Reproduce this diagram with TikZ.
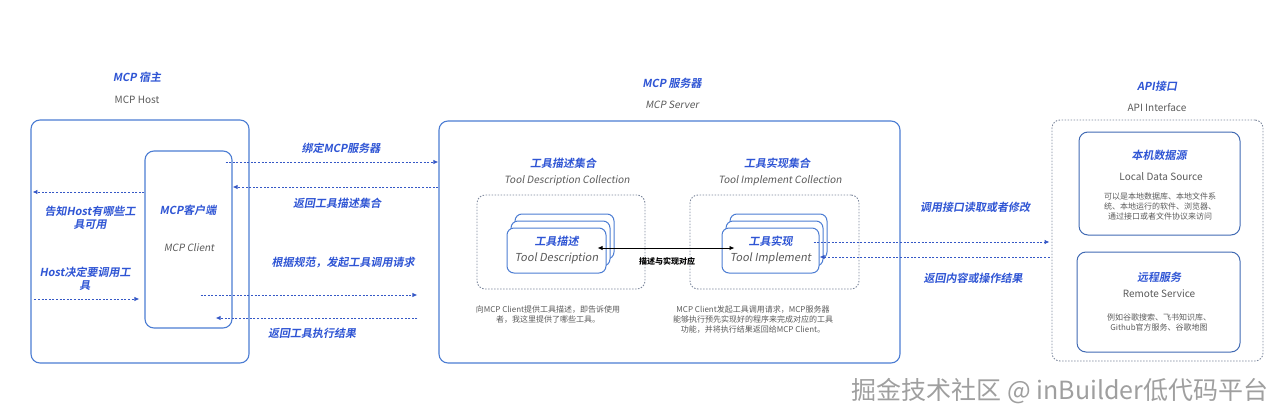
\documentclass[tikz,border=0pt]{standalone}
\usepackage{fontspec}
\setmainfont{Noto Sans CJK SC}[AutoFakeSlant=0.18, BoldItalicFont={Noto Sans CJK SC Bold}, BoldItalicFeatures={FakeSlant=0.18}]
\usetikzlibrary{arrows.meta,positioning,calc}
\definecolor{mcpblue}{HTML}{2F55D4}
\definecolor{edgeblue}{HTML}{4C7DD3}
\definecolor{linkblue}{HTML}{3558C6}
\definecolor{txtgray}{HTML}{5A5A5A}
\definecolor{dotgray}{HTML}{7C879C}

\begin{document}
\begin{tikzpicture}[
        x=1pt,
        y=-1pt,
        >={Latex[length=5pt,width=4.5pt]},
        every node/.style={font=\fontsize{11}{13}\selectfont, align=center, inner sep=1pt},
        ttl/.style={text=mcpblue, font=\fontsize{11}{13}\selectfont\bfseries\itshape},
        sub/.style={text=txtgray, font=\fontsize{10}{12}\selectfont},
        subit/.style={text=txtgray, font=\fontsize{10}{12}\selectfont\itshape},
        lbl/.style={text=mcpblue, font=\fontsize{11}{13}\selectfont\bfseries\itshape},
        note/.style={text=txtgray, font=\fontsize{8}{10}\selectfont},
        outerbox/.style={draw=edgeblue, line width=1.1pt, rounded corners=9pt},
        dotbox/.style={draw=dotgray, line width=0.9pt, dash pattern=on 1.5pt off 1.5pt, rounded corners=8pt},
        card/.style={draw=edgeblue, line width=1pt, fill=white, rounded corners=7pt, minimum width=99pt, minimum height=45pt},
        srcbox/.style={draw=edgeblue!85!black, line width=1pt, rounded corners=9pt},
        link/.style={->, draw=linkblue, line width=0.9pt, dash pattern=on 2pt off 1.6pt}
    ]
        \useasboundingbox (0,0) rectangle (1283,420);

        % host side
        \node[ttl] (hostttl) at (137,77) {MCP 宿主};
        \node[sub] (hostsub) at (137,100) {MCP Host};
        \node[outerbox, minimum width=218pt, minimum height=243pt] (host) at (140,241.5) {};
        \node[outerbox, minimum width=87pt, minimum height=177pt] (cli) at (188.5,239.5) {};
        \node[ttl] at (188,210) {MCP客户端};
        \node[subit] at (189,248) {MCP Client};

        % server side
        \node[ttl] (srvttl) at (672,83) {MCP 服务器};
        \node[subit] (srvsub) at (672,105) {MCP Server};
        \node[outerbox, minimum width=461pt, minimum height=242pt] (srv) at (669.5,242) {};

        \node[ttl] at (563,163) {工具描述集合};
        \node[subit] at (567,181) {Tool Description Collection};
        \node[dotbox, minimum width=168pt, minimum height=94pt] (dcol) at (561,242) {};
        \foreach \k in {2,1} {
            \node[card] at ({556.5+4*\k},{250.5-7*\k}) {};
        }
        \node[card] (desc) at (556.5,250.5) {\textcolor{mcpblue}{\bfseries\itshape 工具描述}\\[3pt]{\color{txtgray}\itshape Tool Description}};

        \node[ttl] at (777,163) {工具实现集合};
        \node[subit] at (780,181) {Tool Implement Collection};
        \node[dotbox, minimum width=169pt, minimum height=94pt] (icol) at (774.5,242) {};
        \foreach \k in {2,1} {
            \node[card, minimum width=97pt] at ({770.5+4*\k},{250.5-7*\k}) {};
        }
        \node[card, minimum width=97pt] (impl) at (770.5,250.5) {\textcolor{mcpblue}{\bfseries\itshape 工具实现}\\[3pt]{\color{txtgray}\itshape Tool Implement}};

        \draw[<->, line width=0.9pt] ($(desc.east)+(-9,-2.5)$) -- ($(impl.west)+(13,-2.5)$);
        \node[font=\fontsize{8}{10}\selectfont\bfseries] at (667,261) {描述与实现对应};

        \node[note] at (548,315) {向MCP Client提供工具描述，即告诉使用\\者，我这里提供了哪些工具。};
        \node[note] at (753,320) {MCP Client发起工具调用请求，MCP服务器\\能够执行预先实现好的程序来完成对应的工具\\功能，并将执行结果返回给MCP Client。};

        % api side
        \node[ttl] (apittl) at (1157,86) {API接口};
        \node[sub] (apisub) at (1157,108) {API Interface};
        \node[dotbox, minimum width=211pt, minimum height=241pt] (api) at (1157.5,240.5) {};
        \node[srcbox, minimum width=161pt, minimum height=103pt] (local) at (1159.5,183.5) {};
        \node[ttl] at (1159,155) {本机数据源};
        \node[sub] at (1161,177) {Local Data Source};
        \node[note] at (1160,206) {可以是本地数据库、本地文件系\\统、本地运行的软件、浏览器、\\通过接口或者文件协议来访问};
        \node[srcbox, minimum width=163pt, minimum height=100pt] (remote) at (1158.5,302) {};
        \node[ttl] at (1159,277) {远程服务};
        \node[sub] at (1159,294) {Remote Service};
        \node[note] at (1159,322) {例如谷歌搜索、飞书知识库、\\Github官方服务、谷歌地图};

        % connectors
        \draw[link] ($(cli.east |- 0,162)+(-7,0)$) -- (srv.west |- 0,162);
        \node[lbl] at (341,148) {绑定MCP服务器};
        \draw[link] (srv.west |- 0,187) -- (cli.east |- 0,187);
        \node[lbl] at (337,203) {返回工具描述集合};
        \draw[link] (cli.west |- 0,192) -- ($(host.west |- 0,192)+(2,0)$);
        \node[lbl] at (90,218) {告知Host有哪些工\\具可用};
        \draw[link] ($(host.west |- 0,299)+(4,0)$) -- ($(cli.west |- 0,299)+(-5,0)$);
        \node[lbl] at (85,279) {Host决定要调用工\\具};
        \draw[link] ($(cli.east |- 0,295)+(-32,0)$) -- ($(srv.west |- 0,295)+(-21,0)$);
        \node[lbl] at (343,263) {根据规范，发起工具调用请求};
        \draw[link] ($(srv.west |- 0,318)+(-21,0)$) -- ($(cli.east |- 0,318)+(-17,0)$);
        \node[lbl] at (312,333) {返回工具执行结果};
        \draw[link] ($(impl.east |- 0,242)+(-6,0)$) -- ($(api.west |- 0,242)+(-2,0)$);
        \node[lbl] at (975,207) {调用接口读取或者修改};
        \draw[link] ($(api.west |- 0,257)+(-2,0)$) -- (impl.east |- 0,257);
        \node[lbl] at (973,278) {返回内容或操作结果};

        \node[text=gray!75, font=\fontsize{25}{27}\selectfont] (mark) at (1060,391) {掘金技术社区 @ inBuilder低代码平台};
    \end{tikzpicture}
\end{document}
